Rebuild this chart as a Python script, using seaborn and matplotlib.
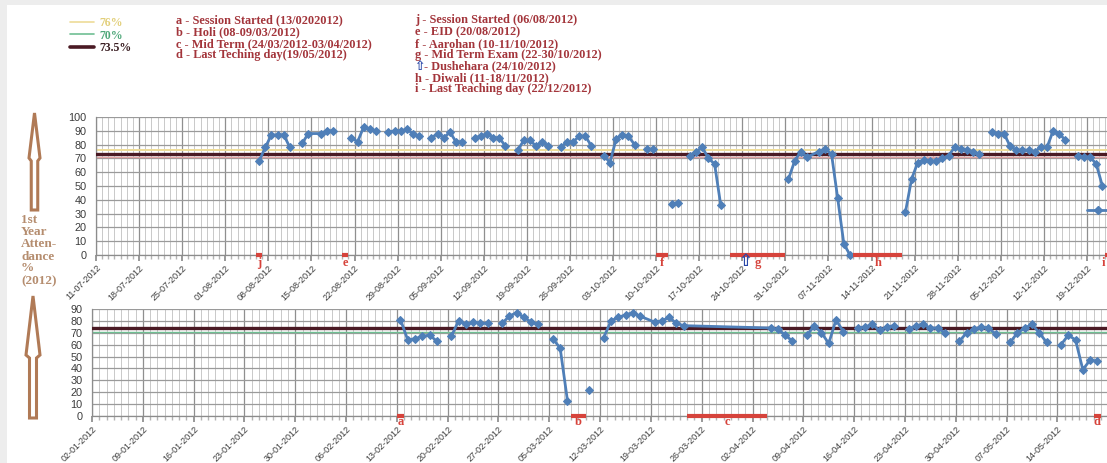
import pandas as pd
import matplotlib
matplotlib.use('Agg')
import matplotlib.pyplot as plt
from matplotlib.lines import Line2D
from matplotlib.patches import Polygon, Rectangle
import seaborn as sns

# ---- data ----
# 2nd half 2012 (top chart), None = break in the line (sunday / holiday)
top_dates = ['2012-08-06', '2012-08-07', '2012-08-08', '2012-08-09', '2012-08-10', '2012-08-11', '2012-08-12',
             '2012-08-13', '2012-08-14', '2012-08-16', '2012-08-17', '2012-08-18', '2012-08-20',
             '2012-08-21', '2012-08-22', '2012-08-23', '2012-08-24', '2012-08-25', '2012-08-26',
             '2012-08-27', '2012-08-28', '2012-08-29', '2012-08-30', '2012-08-31', '2012-09-01', '2012-09-02',
             '2012-09-03', '2012-09-04', '2012-09-05', '2012-09-06', '2012-09-07', '2012-09-08', '2012-09-09',
             '2012-09-10', '2012-09-11', '2012-09-12', '2012-09-13', '2012-09-14', '2012-09-15', '2012-09-16',
             '2012-09-17', '2012-09-18', '2012-09-19', '2012-09-20', '2012-09-21', '2012-09-22', '2012-09-23',
             '2012-09-24', '2012-09-25', '2012-09-26', '2012-09-27', '2012-09-28', '2012-09-29', '2012-09-30',
             '2012-10-01', '2012-10-02', '2012-10-03', '2012-10-04', '2012-10-05', '2012-10-06', '2012-10-07',
             '2012-10-08', '2012-10-09', '2012-10-10', '2012-10-12', '2012-10-13', '2012-10-14',
             '2012-10-15', '2012-10-16', '2012-10-17', '2012-10-18', '2012-10-19', '2012-10-20', '2012-10-21',
             '2012-10-31', '2012-11-01', '2012-11-02', '2012-11-03', '2012-11-05', '2012-11-06', '2012-11-07',
             '2012-11-08', '2012-11-09', '2012-11-10', '2012-11-11',
             '2012-11-19', '2012-11-20', '2012-11-21', '2012-11-22', '2012-11-23', '2012-11-24', '2012-11-25',
             '2012-11-26', '2012-11-27', '2012-11-28', '2012-11-29', '2012-11-30', '2012-12-01', '2012-12-02',
             '2012-12-03', '2012-12-04', '2012-12-05', '2012-12-06', '2012-12-07', '2012-12-08', '2012-12-09',
             '2012-12-10', '2012-12-11', '2012-12-12', '2012-12-13', '2012-12-14', '2012-12-15', '2012-12-16',
             '2012-12-17', '2012-12-18', '2012-12-19', '2012-12-20', '2012-12-21']
top_vals = [68, 78, 87, 87, 87, 78, None,
            81, 88, 88, 90, 90, None,
            85, 82, 93, 91, 90, None,
            89, 90, 90, 91, 88, 86, None,
            85, 88, 85, 89, 82, 82, None,
            85, 86, 88, 85, 85, 79, None,
            76, 83, 83, 79, 82, 79, None,
            78, 82, 82, 86, 86, 79, None,
            72, 67, 84, 87, 86, 80, None,
            77, 77, None, 37, 38, None,
            72, 75, 78, 70, 66, 36, None,
            55, 68, 75, 71, 75, 77, 73,
            41, 8, 0, None,
            31, 55, 67, 69, 68, 68, 70,
            72, 78, 77, 76, 75, 73, None,
            89, 88, 88, 79, 76, 76, 76,
            75, 78, 78, 90, 88, 83, None,
            72, 71, 71, 66, 50]

# 1st half 2012 (bottom chart)
bot_dates = ['2012-02-13', '2012-02-14', '2012-02-15', '2012-02-16', '2012-02-17', '2012-02-18', '2012-02-19',
             '2012-02-20', '2012-02-21', '2012-02-22', '2012-02-23', '2012-02-24', '2012-02-25', '2012-02-26',
             '2012-02-27', '2012-02-28', '2012-02-29', '2012-03-01', '2012-03-02', '2012-03-03', '2012-03-04',
             '2012-03-05', '2012-03-06', '2012-03-07', '2012-03-08', '2012-03-10', '2012-03-11',
             '2012-03-12', '2012-03-13', '2012-03-14', '2012-03-15', '2012-03-16', '2012-03-17',
             '2012-03-19', '2012-03-20', '2012-03-21', '2012-03-22', '2012-03-23',
             '2012-04-04', '2012-04-05', '2012-04-06', '2012-04-07', '2012-04-08',
             '2012-04-09', '2012-04-10', '2012-04-11', '2012-04-12', '2012-04-13', '2012-04-14', '2012-04-15',
             '2012-04-16', '2012-04-17', '2012-04-18', '2012-04-19', '2012-04-20', '2012-04-21', '2012-04-22',
             '2012-04-23', '2012-04-24', '2012-04-25', '2012-04-26', '2012-04-27', '2012-04-28', '2012-04-29',
             '2012-04-30', '2012-05-01', '2012-05-02', '2012-05-03', '2012-05-04', '2012-05-05', '2012-05-06',
             '2012-05-07', '2012-05-08', '2012-05-09', '2012-05-10', '2012-05-11', '2012-05-12', '2012-05-13',
             '2012-05-14', '2012-05-15', '2012-05-16', '2012-05-17', '2012-05-18', '2012-05-19']
bot_vals = [81, 64, 65, 67, 68, 63, None,
            67, 80, 77, 79, 78, 78, None,
            78, 84, 87, 83, 79, 77, None,
            65, 57, 13, None, 22, None,
            66, 80, 83, 85, 87, 84,
            79, 80, 83, 78, 76,
            74, 73, 68, 63, None,
            68, 76, 70, 61, 81, 71, None,
            74, 75, 77, 72, 75, 76, None,
            73, 76, 77, 74, 74, 70, None,
            63, 70, 73, 75, 74, 69, None,
            62, 70, 74, 77, 70, 62, None,
            60, 68, 64, 39, 47, 46]

# events marked under the x axis: label, from, to
top_events = [('j', '2012-08-06', '2012-08-06'), ('e', '2012-08-20', '2012-08-20'),
              ('f', '2012-10-10', '2012-10-11'), ('g', '2012-10-22', '2012-10-30'),
              ('h', '2012-11-11', '2012-11-18'), ('i', '2012-12-22', '2012-12-22')]
bot_events = [('a', '2012-02-13', '2012-02-13'), ('b', '2012-03-08', '2012-03-09'),
              ('c', '2012-03-24', '2012-04-03'), ('d', '2012-05-19', '2012-05-19')]
dushehara = '2012-10-24'

left_notes = ['a - Session Started (13/0202012)', 'b - Holi (08-09/03/2012)',
              'c - Mid Term (24/03/2012-03/04/2012)', 'd - Last Teching day(19/05/2012)']
right_notes = ['j - Session Started (06/08/2012)', 'e - EID (20/08/2012)', 'f - Aarohan (10-11/10/2012)',
               'g - Mid Term Exam (22-30/10/2012)', '- Dushehara (24/10/2012)', 'h - Diwali (11-18/11/2012)',
               'i - Last Teaching day (22/12/2012)']
ref_levels = [76, 70, 73.5]
ref_labels = ['76%', '70%', '73.5%']

# ---- style ----
W, H = 1107, 463
BLUE = '#4f7fb8'
EVT = '#d6433b'
NOTE = '#a3353b'
BROWN = '#b07a56'
C76, C70, C735 = '#eedc98', '#6fbf93', '#4a1a24'

sns.set_theme(style='white')
plt.rcParams['font.family'] = ['Liberation Sans', 'DejaVu Sans']
SERIF = ['Liberation Serif', 'DejaVu Serif']


def make_df(dates, vals):
    df = pd.DataFrame({'date': pd.to_datetime(dates), 'val': pd.array(vals, dtype='Float64')})
    df['seg'] = df['val'].isna().cumsum()
    df = df.dropna().copy()
    df['val'] = df['val'].astype(float)
    df['x'] = df['date'] + pd.Timedelta(hours=12)  # points sit in the middle of the day
    return df


def setup_axis(ax, start, end, ytop):
    start, end = pd.Timestamp(start), pd.Timestamp(end)
    ax.set_xlim(start, end)
    ax.set_ylim(0, ytop)
    ax.set_yticks(range(0, ytop + 1, 10))
    major = pd.date_range(start, end, freq='7D')
    minor = pd.date_range(start, end, freq='D')
    ax.set_xticks(minor, minor=True)
    ax.set_xticks(major)
    ax.set_xticklabels([d.strftime('%d-%m-%Y') for d in major], rotation=45, ha='right',
                       rotation_mode='anchor', fontsize=6.5, color='#3c3c3c')
    ax.tick_params(axis='y', labelsize=7.8, labelcolor='#3c3c3c', length=4, color='#8c8c8c', pad=3)
    ax.tick_params(axis='x', which='major', length=4, color='#8c8c8c', pad=2, bottom=True)
    ax.tick_params(axis='x', which='minor', length=3, color='#b4b4b4', bottom=True)
    ax.grid(which='minor', axis='x', color='#c9c9c9', lw=0.7)
    ax.grid(which='major', axis='x', color='#8f8f8f', lw=0.9)
    ax.grid(which='major', axis='y', color='#9a9a9a', lw=0.9)
    ax.set_axisbelow(True)
    for s in ['top', 'right']:
        ax.spines[s].set_visible(False)
    for s in ['left', 'bottom']:
        ax.spines[s].set_color('#8c8c8c')
        ax.spines[s].set_linewidth(0.9)
    ax.set_xlabel('')
    ax.set_ylabel('')


def draw_events(ax, events, dy, dx_last=0):
    for k, (lbl, a, b) in enumerate(events):
        a, b = pd.Timestamp(a), pd.Timestamp(b) + pd.Timedelta(days=1)
        ax.hlines(0, a, b, color=EVT, lw=3, clip_on=False, zorder=6)
        dx = dx_last if k == len(events) - 1 else 0
        ax.annotate(lbl, xy=(a + (b - a) / 2, 0), xytext=(dx, dy), textcoords='offset pixels',
                    ha='center', va='center', color=EVT, fontsize=9, family=SERIF,
                    fontweight='bold', annotation_clip=False)


fig = plt.figure(figsize=(W / 100, H / 100), dpi=100)
fig.patch.set_facecolor('white')

ax1 = fig.add_axes([96 / W, 1 - 255 / H, (W - 96) / W, 138 / H])
ax2 = fig.add_axes([92 / W, 1 - 416 / H, (W - 92) / W, 107 / H])

# top chart
setup_axis(ax1, '2012-07-11', '2012-12-22 06:00', 100)
ax1.axhline(ref_levels[0], color=C76, lw=1.4, zorder=2)
ax1.axhline(ref_levels[1] + 1, color='#e3a3a3', lw=1.0, zorder=2)
ax1.axhline(ref_levels[2], color=C735, lw=2.4, zorder=3)
top = make_df(top_dates, top_vals)
sns.lineplot(data=top, x='x', y='val', units='seg', estimator=None, sort=False, ax=ax1,
             color=BLUE, lw=2, marker='D', markersize=4.5, markeredgecolor=BLUE,
             clip_on=False, zorder=5, legend=False)
setup_axis(ax1, '2012-07-11', '2012-12-22 06:00', 100)
# the last teaching day sits at the very right edge of the picture
draw_events(ax1, top_events, -8, dx_last=-5)
ax1.annotate('\u21e7', xy=(pd.Timestamp(dushehara) + pd.Timedelta(hours=12), 0), xytext=(0, -6),
             textcoords='offset pixels', ha='center', va='center', color='#2a48a8',
             fontsize=12, fontweight='bold', family='DejaVu Sans', annotation_clip=False, zorder=7)
# cut-off excel legend at the right edge
ax1.legend([Line2D([], [], color=BLUE, lw=2, marker='D', markersize=4.5)], [' '],
           loc='center left', bbox_to_anchor=((1087 - 96) / (W - 96), 0.326), frameon=False,
           handlelength=2.3, borderpad=0, borderaxespad=0, fontsize=7)

# bottom chart
setup_axis(ax2, '2012-01-02', '2012-05-20 20:00', 90)
ax2.axhline(ref_levels[1] + 0.5, color=C70, lw=1.0, zorder=2)
ax2.axhline(ref_levels[2] + 0.5, color=C735, lw=2.4, zorder=3)
bot = make_df(bot_dates, bot_vals)
sns.lineplot(data=bot, x='x', y='val', units='seg', estimator=None, sort=False, ax=ax2,
             color=BLUE, lw=2, marker='D', markersize=4.5, markeredgecolor=BLUE,
             clip_on=False, zorder=5, legend=False)
setup_axis(ax2, '2012-01-02', '2012-05-20 20:00', 90)
draw_events(ax2, bot_events, -6)

# legend of the reference lines (top left)
ref_handles = [Line2D([], [], color=C76, lw=1.2), Line2D([], [], color=C70, lw=1.2),
               Line2D([], [], color=C735, lw=2.6)]
fig.legend(ref_handles, ref_labels, loc='upper left', bbox_to_anchor=(70 / W, 1 - 17 / H),
           frameon=False, prop={'family': SERIF, 'size': 8.5, 'weight': 'bold'},
           labelcolor=['#e2cf7a', '#4fa87a', '#3a1e22'], handlelength=2.0, handletextpad=0.45,
           labelspacing=0.05, borderpad=0, borderaxespad=0)

# notes
for t, y in zip(left_notes, [20, 32, 44, 55]):
    fig.text(176 / W, 1 - y / H, t, va='center', ha='left', color=NOTE, fontsize=8.8,
             family=SERIF, fontweight='bold')
for t, y in zip(right_notes, [20, 32, 44, 55, 66, 78, 89]):
    x0 = 424 if t.startswith('-') else 415
    fig.text(x0 / W, 1 - y / H, t, va='center', ha='left', color=NOTE, fontsize=8.8,
             family=SERIF, fontweight='bold')
fig.text(414 / W, 1 - 66 / H, '\u21e7', va='center', ha='left', color='#2a48a8', fontsize=9,
         family='DejaVu Sans', fontweight='bold')

# side label with the two big arrows
for t, y in zip(['1st', 'Year', 'Atten-', 'dance', '%', '(2012)'], [220, 232, 244, 257, 268, 281]):
    fig.text(21 / W, 1 - y / H, t, va='center', ha='left', color='#b58d6f', fontsize=9.5,
             family=SERIF, fontweight='bold')


def big_arrow(tip_y, head_y, base_y, cx, head_w, shaft_w):
    pts = [(cx, tip_y), (cx - head_w / 2, head_y - 3), (cx - shaft_w / 2, head_y),
           (cx - shaft_w / 2, base_y), (cx + shaft_w / 2, base_y), (cx + shaft_w / 2, head_y),
           (cx + head_w / 2, head_y - 3)]
    pts = [(px / W, 1 - py / H) for px, py in pts]
    fig.patches.append(Polygon(pts, closed=True, transform=fig.transFigure, facecolor='white',
                               edgecolor=BROWN, lw=2.2))


big_arrow(113, 161, 210, 34.5, 11, 6.5)
big_arrow(296, 358, 418, 33, 14, 7)

# light grey frame of the screenshot
fig.patches.append(Rectangle((0, 0), 7 / W, 1, transform=fig.transFigure, color='#ededed', lw=0))
fig.patches.append(Rectangle((0, 1 - 5 / H), 1, 5 / H, transform=fig.transFigure, color='#ededed', lw=0))

fig.savefig('out.png', dpi=100)
